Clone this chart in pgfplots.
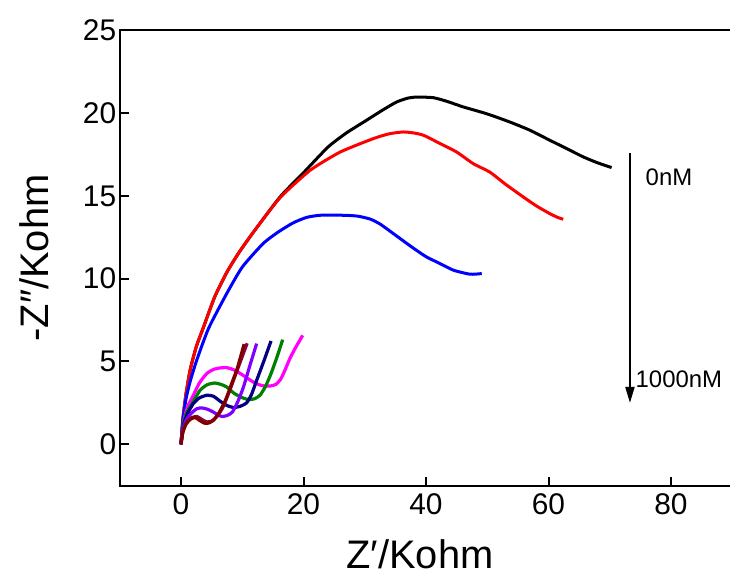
\documentclass[border=0pt]{standalone}
\usepackage{fontspec}
\setmainfont{Liberation Sans}
\usepackage{pgfplots}
\pgfplotsset{compat=1.18}
\usetikzlibrary{arrows.meta}
\definecolor{cnavy}{RGB}{0,0,128}
\definecolor{cgreen}{RGB}{0,128,0}
\definecolor{cviolet}{RGB}{128,0,255}
\definecolor{cmaroon}{RGB}{128,0,0}
\definecolor{cwine}{RGB}{140,0,60}
\definecolor{cmagenta}{RGB}{255,0,255}

\begin{document}
\begin{tikzpicture}
\useasboundingbox (0,0) rectangle (730bp,578bp);
\begin{axis}[
  at={(119.75bp,92.3bp)}, anchor=south west,
  scale only axis, width=612.5bp, height=455.4bp,
  xmin=-10, xmax=90, ymin=-2.5, ymax=25,
  xtick={0,20,40,60,80}, ytick={0,5,10,15,20,25},
  xtick pos=bottom, ytick pos=left, tick align=inside,
  major tick length=9bp,
  every tick/.style={black, line width=2bp},
  axis line style={line width=2.2bp},
  /pgf/number format/assume math mode=true,
  tick label style={font=\fontsize{30}{30}\selectfont},
  xticklabel style={yshift=-4bp},
  label style={font=\fontsize{40}{40}\selectfont},
  xlabel={Z′/Kohm}, ylabel={-Z″/Kohm},
  xlabel style={at={(axis description cs:0.49,-0.15)}, anchor=center},
  ylabel style={at={(axis description cs:-0.139,0.5)}, anchor=center},
  clip=false,
  every axis plot/.append style={smooth, tension=0.35},
]
% --- large arcs ---
\addplot[black, line width=3bp] coordinates {
  (0,0)(0.3,1.5)(0.8,3)(1.5,4.5)(2.5,5.9)(3.6,7.0)(5.5,8.9)(7.5,10.4)(9.5,11.6)
  (12,12.9)(16.2,14.95)(20,16.4)(24,17.95)(27,18.8)(30,19.5)(33,20.2)(35.2,20.67)
  (37,20.9)(38.5,20.97)(41.2,20.93)(43.5,20.7)(46.1,20.37)(50,19.95)(53.7,19.46)
  (57,18.96)(60,18.4)(63,17.85)(65.7,17.35)(68,17.0)(70.3,16.71)};
\addplot[red, line width=3bp] coordinates {
  (0,0)(0.3,1.5)(0.8,3)(1.5,4.5)(2.5,5.9)(3.6,7.0)(5.5,8.9)(7.5,10.4)(9.5,11.6)
  (12,12.9)(16.2,14.9)(21.1,16.55)(26,17.65)(31.4,18.46)(34,18.75)(36.3,18.86)
  (38,18.8)(39.6,18.66)(42.3,18.16)(45,17.65)(47.7,16.95)(50.4,16.44)(53,15.7)
  (55.9,14.93)(58,14.4)(60.2,13.93)(61.5,13.7)(62.4,13.59)};
\addplot[blue, line width=3bp] coordinates {
  (0,0)(0.3,1.4)(0.8,2.7)(1.5,3.8)(2.56,5.07)(4.5,7.0)(7.46,9.1)(10,10.7)
  (13.4,12.12)(15.8,12.8)(18.3,13.37)(20.5,13.7)(22.7,13.83)(26.5,13.83)
  (28.8,13.78)(30.9,13.6)(32.5,13.3)(34.2,12.85)(36.9,12.12)(38.5,11.7)(40.1,11.31)
  (42.3,10.91)(44.5,10.51)(47.2,10.27)(49.1,10.31)};
% --- small arcs ---
\addplot[cmagenta, line width=3.2bp] coordinates {
  (0,0)(0.4,1.3)(1.0,2.2)(2.0,2.95)(3.0,3.7)(4.2,4.27)(5.3,4.52)(6.37,4.61)
  (7.46,4.63)(8.6,4.5)(9.7,4.27)(10.8,4.0)(11.8,3.76)(12.7,3.6)(13.6,3.52)
  (14.6,3.52)(15.5,3.62)(16.3,3.95)(17.0,4.5)(17.8,5.2)(18.8,5.9)(19.87,6.58)};
\addplot[cgreen, line width=3.2bp] coordinates {
  (0,0)(0.3,1.1)(0.9,1.9)(1.74,2.4)(3.1,3.26)(4.3,3.6)(5.5,3.7)(6.5,3.62)
  (7.46,3.46)(8.6,3.1)(9.7,2.86)(11,2.7)(12,2.75)(12.9,2.96)(13.8,3.5)
  (14.7,4.27)(15.7,5.3)(16.6,6.32)};
\addplot[cnavy, line width=3.2bp] coordinates {
  (0,0)(0.3,1.0)(1.0,1.8)(2.0,2.45)(3.0,2.8)(4.2,2.96)(5.3,2.9)(6.4,2.6)
  (7.46,2.35)(8.6,2.22)(9.7,2.3)(10.7,2.5)(11.5,3.0)(12.35,3.86)(13.5,5.0)(14.7,6.24)};
\addplot[cviolet, line width=3.2bp] coordinates {
  (0,0)(0.3,0.9)(0.9,1.5)(1.74,1.9)(2.6,2.15)(3.4,2.2)(4.3,2.12)(5.27,1.95)
  (6.1,1.75)(6.8,1.68)(7.6,1.75)(8.4,1.95)(9.3,2.6)(10.2,3.46)(11.2,4.7)(12.35,6.08)};
\addplot[cwine, line width=3.2bp] coordinates {
  (0,0)(0.3,0.75)(0.9,1.3)(1.7,1.6)(2.6,1.68)(3.4,1.5)(4.2,1.35)(5,1.4)
  (5.8,1.65)(6.8,2.2)(7.8,3.1)(8.8,4.1)(9.8,5.1)(10.8,6.1)};
\addplot[cmaroon, line width=3.2bp] coordinates {
  (0,0)(0.3,0.7)(0.8,1.2)(1.5,1.5)(2.3,1.62)(3.0,1.45)(3.8,1.28)(4.5,1.28)
  (5.3,1.45)(6.2,1.9)(7.3,2.7)(8.3,3.7)(9.2,4.6)(10.3,6.05)};
% --- annotation ---
\draw[-{Triangle[length=16bp,width=9bp]}, line width=2bp]
  (axis cs:73.3,17.6) -- (axis cs:73.3,2.5);
\node[anchor=west, font=\fontsize{24}{24}\selectfont] at (axis cs:75.3,16.1) {0nM};
\node[anchor=west, font=\fontsize{24}{24}\selectfont, inner sep=0pt] at (axis cs:74.2,3.9) {1000nM};
\end{axis}
\end{tikzpicture}
\end{document}
